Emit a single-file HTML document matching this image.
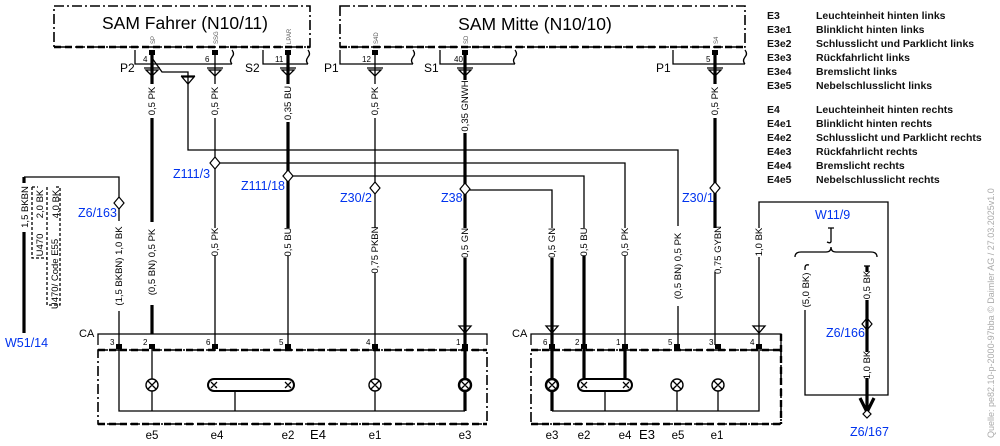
<!DOCTYPE html>
<html><head><meta charset="utf-8"><style>
html,body{margin:0;padding:0;background:#fff;}
svg{display:block;font-family:"Liberation Sans",Arial,sans-serif;}
.w{fill:none;stroke:#000;stroke-width:1.3}
.t{fill:none;stroke:#000;stroke-width:3.2}
.d{fill:none;stroke:#000;stroke-width:1.6;stroke-dasharray:10 3 2 3}
.dd{fill:none;stroke:#000;stroke-width:2.4;stroke-dasharray:7 4}
.wl{font-size:9.5px;fill:#000}
.bl{font-size:12.5px;fill:#0033ee}
.lg{font-size:10.5px;font-weight:bold;fill:#111}
.pn{font-size:8px;fill:#000}
</style></head><body>
<svg width="1000" height="446" viewBox="0 0 1000 446">
<rect x="54" y="6" width="256" height="41" class="d"/>
<line x1="54" y1="47" x2="310" y2="47" class="dd"/>
<text x="185" y="29" font-size="17.5" text-anchor="middle">SAM Fahrer (N10/11)</text>
<rect x="340" y="6" width="405" height="41" class="d"/>
<line x1="340" y1="47" x2="745" y2="47" class="dd"/>
<text x="535" y="30" font-size="17.5" text-anchor="middle">SAM Mitte (N10/10)</text>
<g font-size="6" fill="#555">
<text transform="translate(155,44) rotate(-90)">SP</text>
<text transform="translate(218,44) rotate(-90)">SSG</text>
<text transform="translate(291,44) rotate(-90)">LPAR</text>
<text transform="translate(378,44) rotate(-90)">S4D</text>
<text transform="translate(468,44) rotate(-90)">SD</text>
<text transform="translate(718,44) rotate(-90)">S4</text>
</g>
<path class="w" d="M135,50 V64 H232 M232,50 q3,4 0,7 q-3,4 0,7"/>
<path class="w" d="M263,50 V64 H308 M308,50 q3,4 0,7 q-3,4 0,7"/>
<path class="w" d="M340,50 V64 H413 M413,50 q3,4 0,7 q-3,4 0,7"/>
<path class="w" d="M440,50 V64 H515 M515,50 q3,4 0,7 q-3,4 0,7"/>
<path class="w" d="M673,50 V64 H745 M745,50 q3,4 0,7 q-3,4 0,7"/>
<g font-size="12"><text x="120" y="72">P2</text><text x="245" y="72">S2</text><text x="324" y="72">P1</text><text x="424" y="72">S1</text><text x="656" y="72">P1</text></g>
<g class="pn"><text x="143" y="62">4</text><text x="205" y="62">6</text><text x="275" y="62">11</text><text x="362" y="62">12</text><text x="454" y="62">40</text><text x="706" y="62">5</text></g>
<g fill="#000">
<rect x="149" y="50" width="6" height="5"/><rect x="212" y="50" width="6" height="5"/><rect x="285" y="50" width="6" height="5"/><rect x="372" y="50" width="6" height="5"/><rect x="462" y="50" width="6" height="5"/><rect x="712" y="50" width="6" height="5"/>
</g>
<g class="w">
<path d="M144,68 H160 M146,70 L152,76 L158,70 Z"/><path d="M207,68 H223 M209,70 L215,76 L221,70 Z"/>
<path d="M280,68 H296 M282,70 L288,76 L294,70 Z"/><path d="M367,68 H383 M369,70 L375,76 L381,70 Z"/>
<path d="M457,68 H473 M459,70 L465,76 L471,70 Z"/><path d="M707,68 H723 M709,70 L715,76 L721,70 Z"/>
<path d="M181,76 H195 M182,77 L188,84 L194,77 Z"/>
</g>
<path class="t" d="M152,50 V84 M152,118 V222 M152,305 V334"/>
<path class="w" d="M215,50 V84 M215,118 V228 M215,256 V345"/>
<path class="t" d="M288,50 V84 M288,122 V228"/><path class="w" d="M288,256 V345"/>
<path class="w" d="M375,50 V84 M375,118 V228 M375,273 V345"/>
<path class="t" d="M465,50 V80 M465,133 V228 M465,258 V345"/>
<path class="t" d="M715,50 V84 M715,118 V228"/><path class="w" d="M715,272 V345"/>
<path class="w" d="M152,58 L162,72 H188 V150 H678 V226 M678,306 V345"/>
<path class="w" d="M215,163 H625 V228 M625,256 V345"/>
<path class="w" d="M288,176 H584 V228"/><path class="t" d="M584,256 V345"/>
<path class="w" d="M465,190 H552 V228"/><path class="t" d="M552,258 V345"/>
<path class="t" d="M24,177 V183 M24,232 V333"/>
<path class="w" d="M24,177 H119 V221 M119,311 V345"/>
<path class="w" style="stroke-dasharray:3 2" d="M32,187 V258 H47 M32,187 H38 M47,187 V305 H60 V187 H54"/>
<g class="wl">
<text transform="translate(28,207) rotate(-90)" text-anchor="middle">1,5 BKBN</text>
<text transform="translate(43,204) rotate(-90)" text-anchor="middle">2,0 BK</text>
<text transform="translate(59,204) rotate(-90)" text-anchor="middle">4,0 BK</text>
<text transform="translate(43,245) rotate(-90)" text-anchor="middle">U470</text>
<text transform="translate(58,274) rotate(-90)" text-anchor="middle">U470/ Code E55</text>
</g>
<g fill="#fff" stroke="#000" stroke-width="1.2">
<path d="M119,197 l5,6 l-5,6 l-5,-6z"/><path d="M215,157 l5,6 l-5,6 l-5,-6z"/><path d="M288,170 l5,6 l-5,6 l-5,-6z"/>
<path d="M375,182 l5,6 l-5,6 l-5,-6z"/><path d="M465,183 l5,6 l-5,6 l-5,-6z"/><path d="M715,182 l5,6 l-5,6 l-5,-6z"/>
<path d="M867,318 l5,6 l-5,6 l-5,-6z"/>
</g>
<g class="bl">
<text x="173" y="178">Z111/3</text><text x="241" y="190">Z111/18</text><text x="340" y="202">Z30/2</text>
<text x="441" y="202">Z38</text><text x="682" y="202">Z30/1</text><text x="78" y="217">Z6/163</text>
<text x="5" y="347">W51/14</text><text x="815" y="219">W11/9</text><text x="826" y="337">Z6/166</text><text x="850" y="436">Z6/167</text>
</g>
<g class="wl">
<text transform="translate(155,101) rotate(-90)" text-anchor="middle">0,5 PK</text>
<text transform="translate(218,101) rotate(-90)" text-anchor="middle">0,5 PK</text>
<text transform="translate(291,103) rotate(-90)" text-anchor="middle">0,35 BU</text>
<text transform="translate(378,101) rotate(-90)" text-anchor="middle">0,5 PK</text>
<text transform="translate(468,106) rotate(-90)" text-anchor="middle">0,35 GNWH</text>
<text transform="translate(718,101) rotate(-90)" text-anchor="middle">0,5 PK</text>
<text transform="translate(122,266) rotate(-90)" text-anchor="middle">(1,5 BKBN) 1,0 BK</text>
<text transform="translate(155,262) rotate(-90)" text-anchor="middle">(0,5 BN) 0,5 PK</text>
<text transform="translate(218,242) rotate(-90)" text-anchor="middle">0,5 PK</text>
<text transform="translate(291,242) rotate(-90)" text-anchor="middle">0,5 BU</text>
<text transform="translate(378,250) rotate(-90)" text-anchor="middle">0,75 PKBN</text>
<text transform="translate(468,243) rotate(-90)" text-anchor="middle">0,5 GN</text>
<text transform="translate(555,243) rotate(-90)" text-anchor="middle">0,5 GN</text>
<text transform="translate(587,242) rotate(-90)" text-anchor="middle">0,5 BU</text>
<text transform="translate(628,242) rotate(-90)" text-anchor="middle">0,5 PK</text>
<text transform="translate(681,266) rotate(-90)" text-anchor="middle">(0,5 BN) 0,5 PK</text>
<text transform="translate(721,250) rotate(-90)" text-anchor="middle">0,75 GYBN</text>
<text transform="translate(762,242) rotate(-90)" text-anchor="middle">1,0 BK</text>
<text transform="translate(809,290) rotate(-90)" text-anchor="middle">(5,0 BK)</text>
<text transform="translate(870,285) rotate(-90)" text-anchor="middle">0,5 BK</text>
<text transform="translate(870,365) rotate(-90)" text-anchor="middle">1,0 BK</text>
</g>
<text x="79" y="337" font-size="11">CA</text>
<path class="w" d="M98,345 V334 H487 V345"/>
<rect x="98" y="350" width="389" height="74" class="d"/>
<line x1="98" y1="350" x2="487" y2="350" class="dd"/><line x1="98" y1="424" x2="487" y2="424" class="dd"/>
<path class="w" d="M459,326 L465,333 L471,326 Z M459,326 H471"/>
<g class="pn"><text x="110" y="345">3</text><text x="143" y="345">2</text><text x="206" y="345">6</text><text x="279" y="345">5</text><text x="366" y="345">4</text><text x="456" y="345">1</text></g>
<g fill="#000"><rect x="116" y="344" width="6" height="5"/><rect x="149" y="344" width="6" height="5"/><rect x="212" y="344" width="6" height="5"/><rect x="285" y="344" width="6" height="5"/><rect x="372" y="344" width="6" height="5"/><rect x="462" y="344" width="6" height="5"/></g>
<path class="w" d="M119,345 V411 H465 M152,345 V379 M152,391 V411 M375,345 V379 M375,391 V411 M235,391 V411"/>
<path class="t" d="M465,345 V379 M465,391 V411"/>
<g fill="#fff" stroke="#000" stroke-width="1.4">
<circle cx="152" cy="385" r="6"/><circle cx="375" cy="385" r="6"/><circle cx="465" cy="385" r="6" stroke-width="2.4"/>
<rect x="208" y="379" width="86" height="12" rx="6" stroke-width="2"/>
</g>
<path class="w" d="M148,381 l8,8 m0,-8 l-8,8 M371,381 l8,8 m0,-8 l-8,8 M461,381 l8,8 m0,-8 l-8,8 M211,382 l6,6 m0,-6 l-6,6 M285,382 l6,6 m0,-6 l-6,6"/>
<g font-size="11.5"><text x="152" y="439" text-anchor="middle">e5</text><text x="217" y="439" text-anchor="middle">e4</text><text x="288" y="439" text-anchor="middle">e2</text><text x="318" y="439" text-anchor="middle" font-size="13">E4</text><text x="375" y="439" text-anchor="middle">e1</text><text x="465" y="439" text-anchor="middle">e3</text></g>
<text x="512" y="337" font-size="11">CA</text>
<path class="w" d="M531,345 V334 H781 V345"/>
<rect x="531" y="350" width="250" height="74" class="d"/>
<line x1="531" y1="350" x2="781" y2="350" class="dd"/><line x1="531" y1="424" x2="781" y2="424" class="dd"/><line x1="781" y1="334" x2="781" y2="424" class="dd"/>
<path class="w" d="M546,326 L552,333 L558,326 Z M546,326 H558 M753,326 L759,333 L765,326 Z M753,326 H765"/>
<g class="pn"><text x="543" y="345">6</text><text x="575" y="345">2</text><text x="616" y="345">1</text><text x="668" y="345">5</text><text x="709" y="345">3</text><text x="750" y="345">4</text></g>
<g fill="#000"><rect x="549" y="344" width="6" height="5"/><rect x="581" y="344" width="6" height="5"/><rect x="622" y="344" width="6" height="5"/><rect x="674" y="344" width="6" height="5"/><rect x="715" y="344" width="6" height="5"/><rect x="756" y="344" width="6" height="5"/></g>
<path class="w" d="M552,411 H759 V257 M759,228 V202 H888 V395 H805 V310 M805,270 V268 M677,391 V411 M718,391 V411 M605,391 V411"/>
<path class="t" d="M552,345 V379 M552,391 V411 M584,345 V379 M625,345 V379"/>
<g fill="#fff" stroke="#000" stroke-width="1.4">
<circle cx="552" cy="385" r="6" stroke-width="2.4"/><circle cx="677" cy="385" r="6"/><circle cx="718" cy="385" r="6"/>
<rect x="578" y="379" width="54" height="12" rx="6" stroke-width="2"/>
</g>
<path class="w" d="M548,381 l8,8 m0,-8 l-8,8 M673,381 l8,8 m0,-8 l-8,8 M714,381 l8,8 m0,-8 l-8,8 M581,382 l6,6 m0,-6 l-6,6 M623,382 l6,6 m0,-6 l-6,6"/>
<g font-size="11.5"><text x="552" y="439" text-anchor="middle">e3</text><text x="584" y="439" text-anchor="middle">e2</text><text x="625" y="439" text-anchor="middle">e4</text><text x="647" y="439" text-anchor="middle" font-size="13">E3</text><text x="678" y="439" text-anchor="middle">e5</text><text x="717" y="439" text-anchor="middle">e1</text></g>
<path class="w" d="M831,228 V242 M828,228 H834 M827,242 q4,2 4,-1"/>
<path class="w" d="M795,257 q0,-5 6,-5 H826 q5,0 5,-5 q0,5 5,5 H871 q6,0 6,5"/>
<path class="w" d="M805,268 q0,-4 4,-3"/>
<path class="t" d="M867,266 V272 M867,300 V352 M867,378 V410"/>
<path class="w" d="M864,266 H870"/>
<path class="t" d="M860,398 L867,412 L874,398" />
<path fill="#fff" stroke="#000" stroke-width="1.2" d="M867,410 l4,4 l-4,4 l-4,-4z"/>
<g class="lg">
<text x="767" y="19">E3</text><text x="816" y="19">Leuchteinheit hinten links</text>
<text x="767" y="33">E3e1</text><text x="816" y="33">Blinklicht hinten links</text>
<text x="767" y="47">E3e2</text><text x="816" y="47">Schlusslicht und Parklicht links</text>
<text x="767" y="61">E3e3</text><text x="816" y="61">Rückfahrlicht links</text>
<text x="767" y="75">E3e4</text><text x="816" y="75">Bremslicht links</text>
<text x="767" y="89">E3e5</text><text x="816" y="89">Nebelschlusslicht links</text>
<text x="767" y="113">E4</text><text x="816" y="113">Leuchteinheit hinten rechts</text>
<text x="767" y="127">E4e1</text><text x="816" y="127">Blinklicht hinten rechts</text>
<text x="767" y="141">E4e2</text><text x="816" y="141">Schlusslicht und Parklicht rechts</text>
<text x="767" y="155">E4e3</text><text x="816" y="155">Rückfahrlicht rechts</text>
<text x="767" y="169">E4e4</text><text x="816" y="169">Bremslicht rechts</text>
<text x="767" y="183">E4e5</text><text x="816" y="183">Nebelschlusslicht rechts</text>
</g>
<text transform="translate(994,438) rotate(-90)" font-size="9" fill="#aaa">Quelle: pe82.10-p-2000-97bba © Daimler AG / 27.03.2025v1.0</text>
</svg>
</body></html>
